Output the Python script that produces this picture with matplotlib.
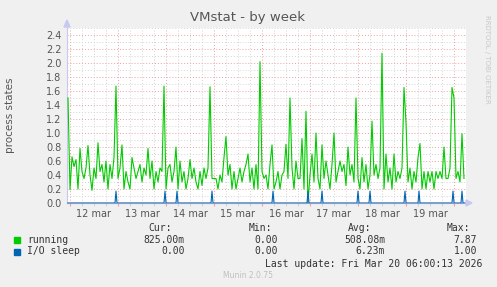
import matplotlib
matplotlib.use('Agg')
import matplotlib.pyplot as plt
import numpy as np
from matplotlib.patches import Rectangle, Polygon

# hours relative to 12 mar 00:00, one sample per hour
start_hour = -1
running = [
	1.50,
	# 12 mar
	0.19, 0.66, 0.52, 0.62, 0.20, 0.78, 0.45, 0.35, 0.50, 0.82, 0.40, 0.18,
	0.50, 0.35, 0.86, 0.45, 0.55, 0.30, 0.60, 0.20, 0.55, 0.35, 0.65, 1.67,
	# 13 mar
	0.35, 0.50, 0.83, 0.20, 0.45, 0.30, 0.20, 0.65, 0.50, 0.35, 0.45, 0.55,
	0.30, 0.50, 0.40, 0.78, 0.35, 0.60, 0.20, 0.45, 0.30, 0.50, 0.45, 1.67,
	# 14 mar
	0.20, 0.50, 0.55, 0.30, 0.45, 0.80, 0.20, 0.60, 0.30, 0.45, 0.20, 0.35,
	0.62, 0.35, 0.50, 0.30, 0.20, 0.45, 0.25, 0.50, 0.35, 0.50, 1.66, 0.35,
	# 15 mar
	0.35, 0.35, 0.20, 0.40, 0.30, 0.65, 0.95, 0.40, 0.55, 0.20, 0.45, 0.20,
	0.35, 0.50, 0.30, 0.45, 0.55, 0.70, 0.30, 0.50, 0.20, 0.55, 0.20, 2.02,
	# 16 mar
	0.45, 0.35, 0.40, 0.20, 0.55, 0.83, 0.20, 0.30, 0.45, 0.20, 0.40, 0.45,
	0.84, 0.35, 1.50, 0.50, 0.20, 0.60, 0.35, 0.35, 0.92, 0.20, 1.31, 0.00,
	# 17 mar
	0.40, 0.70, 0.30, 1.00, 0.35, 0.20, 0.83, 0.35, 0.60, 0.40, 0.20, 0.55,
	1.00, 0.30, 0.45, 0.60, 0.45, 0.55, 0.25, 0.80, 0.40, 0.55, 0.30, 1.50,
	# 18 mar
	0.35, 0.20, 0.65, 0.30, 0.55, 0.20, 0.40, 1.17, 0.40, 0.55, 0.35, 0.50,
	2.14, 0.20, 0.70, 0.30, 0.50, 0.20, 0.70, 0.30, 0.45, 0.35, 0.50, 1.65,
	# 19 mar
	1.15, 0.30, 0.50, 0.20, 0.45, 0.30, 0.65, 0.85, 0.20, 0.45, 0.20, 0.45,
	0.30, 0.45, 0.20, 0.45, 0.35, 0.45, 0.35, 0.80, 0.35, 0.35, 0.50, 1.65,
	# 20 mar
	1.50, 0.35, 0.45, 0.30, 0.99, 0.35,
]
# I/O sleep: zero except short spikes (hours, half hour resolution)
io_spike_hours  = [23, 47.5, 53.5, 71, 101.5, 119, 126, 144, 150, 167.5, 174.5, 191.5, 196]
io_spike_height = 0.17

day_labels = ['12 mar', '13 mar', '14 mar', '15 mar', '16 mar', '17 mar', '18 mar', '19 mar']

legend_rows = [
	('running',   '#00CC00', '825.00m', '0.00', '508.08m', '7.87'),
	('I/O sleep', '#0066B3', '0.00',    '0.00', '6.23m',   '1.00'),
]
last_update = 'Last update: Fri Mar 20 06:00:13 2026'

W, H = 497, 287
bg = '#F0F0F0'
txt = '#555555'

def fx(px):
	return px / W

def fy(py):
	return 1 - py / H

fig = plt.figure(figsize=(W / 100, H / 100), dpi=100, facecolor=bg)
ax = fig.add_axes([fx(67), fy(203), fx(466) - fx(67), fy(28) - fy(203)])
ax.set_facecolor('white')

hours = start_hour + np.arange(len(running))
io_hours = np.arange(start_hour * 2, (start_hour + len(running)) * 2) / 2.0
io_sleep = np.zeros(len(io_hours))
for h in io_spike_hours:
	io_sleep[np.argmin(np.abs(io_hours - h))] = io_spike_height

ax.set_xlim(-1.5, 198)
ax.set_ylim(0, 2.5)

# grid
ax.set_xticks(np.arange(0, 198, 24))
ax.set_xticks(np.arange(0, 198, 6), minor=True)
ax.set_yticks(np.arange(0, 2.41, 0.2))
ax.set_yticks(np.arange(0.1, 2.51, 0.2), minor=True)
ax.set_yticklabels(['%.1f' % v for v in np.arange(0, 2.41, 0.2)])
ax.set_xticklabels([])
ax.grid(True, which='minor', color='#d4d4d4', linestyle=(0, (1, 2)), linewidth=0.7)
ax.grid(True, which='major', color='#f0a0a0', linestyle=(0, (1, 2)), linewidth=0.7)
ax.set_axisbelow(True)
ax.tick_params(axis='x', which='major', length=2, color='#f0a0a0')
ax.tick_params(axis='x', which='minor', length=2, color='#cccccc')
ax.tick_params(axis='y', which='both', length=0, labelsize=7, labelcolor=txt, pad=4)

for i, lab in enumerate(day_labels):
	ax.text(12 + 24 * i, -0.035, lab, transform=ax.get_xaxis_transform(),
		ha='center', va='top', fontsize=7, color=txt)

for side in ['top', 'right']:
	ax.spines[side].set_visible(False)
ax.spines['left'].set_color('#c8c8f0')
ax.spines['bottom'].set_color('#8899cc')
ax.spines['left'].set_linewidth(0.8)
ax.spines['bottom'].set_linewidth(0.8)

# data
ax.plot(hours, running, color='#00CC00', linewidth=0.8, zorder=3)
ax.plot(io_hours, io_sleep, color='#0066B3', linewidth=0.8, zorder=4)

# axis arrows
arrow_col = '#c8c8f0'
fig.add_artist(Polygon([(fx(64), fy(27)), (fx(70), fy(27)), (fx(67), fy(20))],
	closed=True, transform=fig.transFigure, color=arrow_col))
fig.add_artist(Polygon([(fx(466), fy(200)), (fx(466), fy(206)), (fx(472), fy(203))],
	closed=True, transform=fig.transFigure, color=arrow_col))

# title and labels
fig.text(fx(248), fy(17), 'VMstat - by week', ha='center', va='center', fontsize=9.5, color=txt)
fig.text(fx(10), fy(115), 'process states', ha='center', va='center', rotation=90, fontsize=7.5, color=txt)
fig.text(fx(487), fy(15), 'RRDTOOL / TOBI OETIKER', ha='center', va='top', rotation=270,
	fontsize=5, color='#c8c8c8')

# legend
mono = 'DejaVu Sans Mono'
lc = '#333333'
col_ends = [185, 278, 385, 477]
head_ends = [172, 272, 371, 470]
for name, x in zip(['Cur:', 'Min:', 'Avg:', 'Max:'], head_ends):
	fig.text(fx(x), fy(228), name, ha='right', va='center', fontsize=7, family=mono, color=lc)
for r, (name, col, cur, mn, avg, mx) in enumerate(legend_rows):
	y = 240 + 11.5 * r
	fig.add_artist(Rectangle((fx(13.5), fy(y + 3)), fx(6), fy(0) - fy(6),
		transform=fig.transFigure, color=col))
	fig.text(fx(27), fy(y), name, ha='left', va='center', fontsize=7, family=mono, color=lc)
	for val, x in zip([cur, mn, avg, mx], col_ends):
		fig.text(fx(x), fy(y), val, ha='right', va='center', fontsize=7, family=mono, color=lc)
fig.text(fx(482), fy(264), last_update, ha='right', va='center', fontsize=7, family=mono, color=lc)
fig.text(fx(248), fy(276), 'Munin 2.0.75', ha='center', va='center', fontsize=5.5, color='#c0c0c0')

plt.savefig('out.png', dpi=100, facecolor=bg)
plt.close()
